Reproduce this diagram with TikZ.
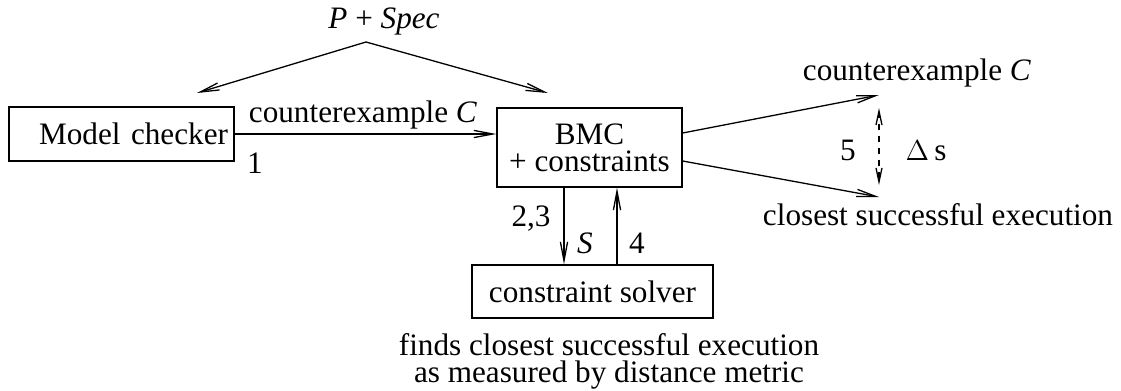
\documentclass[tikz,border=0pt]{standalone}
\usepackage{fontspec}
\setmainfont{Liberation Serif}
\usetikzlibrary{arrows.meta}
\begin{document}
\begin{tikzpicture}[
  x=0.5pt, y=-0.5pt,
  font=\fontsize{15.6}{13.5}\selectfont,
  line width=0.65pt,
  box/.style={draw, rectangle, inner sep=0pt},
  lbl/.style={inner sep=0pt, anchor=base},
  arr/.style={-{Straight Barb[length=9.5pt,width=3.6pt]}},
  darr/.style={{Straight Barb[length=7pt,width=3pt]}-{Straight Barb[length=7pt,width=3pt]},
               dash pattern=on 3pt off 3pt}
]
\useasboundingbox (0,0) rectangle (1121,391);

% boxes
\node[box, minimum width=112.5pt, minimum height=27pt,
      text width=106.5pt, align=right, inner xsep=3pt] (mc) at (121.5,134) {Model checker};
\node[box, minimum width=92.5pt, minimum height=39.5pt, align=center] (bmc) at (589.5,147.5)
      {BMC\\+ constraints};
\node[box, minimum width=120.5pt, minimum height=26.5pt] (cs) at (592.5,291.5) {constraint solver};

% inputs
\node[lbl] (spec) at (384,28) {\textit{P} + \textit{Spec}};
\coordinate (apex) at (366,42);
\coordinate (toMC) at (197,93);
\coordinate (toBMC) at (548,93);
\draw[arr] (apex) -- (toMC);
\draw[arr] (apex) -- (toBMC);

% model checker to BMC
\draw[arr] (mc.east) -- (mc.east -| bmc.west);
\node[lbl] (ce1) at (363,122) {counterexample \textit{C}};
\node[lbl] (n1) at (255,173) {1};

% BMC outputs
\coordinate (ceTip) at (879,95);
\coordinate (seTip) at (879,197);
\draw[arr] ([yshift=7.25pt]bmc.east) -- (ceTip);
\draw[arr] ([yshift=-6.75pt]bmc.east) -- (seTip);
\node[lbl] (ce2) at (917,80) {counterexample \textit{C}};
\node[lbl] (se) at (938,225) {closest successful execution};

% distance between the two traces
\coordinate (dTop) at (879,108);
\coordinate (dBot) at (879,185);
\draw[darr] (dTop) -- (dBot);
\node[lbl] (n5) at (848,160) {5};
\node[lbl] (ds) at (926,160) {$\Delta$\,s};

% BMC <-> constraint solver
\coordinate (xdown) at (564,0);
\coordinate (xup) at (617,0);
\draw[arr] (bmc.south -| xdown) -- (cs.north -| xdown);
\draw[arr] (cs.north -| xup) -- (bmc.south -| xup);
\node[lbl] (n23) at (531,226) {2,3};
\node[lbl] (nS) at (585,253) {\textit{S}};
\node[lbl] (n4) at (637,253) {4};

% note under the solver
\node[inner sep=0pt, align=center] (note) at (609,361.5)
  {finds closest successful execution\\as measured by distance metric};
\end{tikzpicture}
\end{document}
